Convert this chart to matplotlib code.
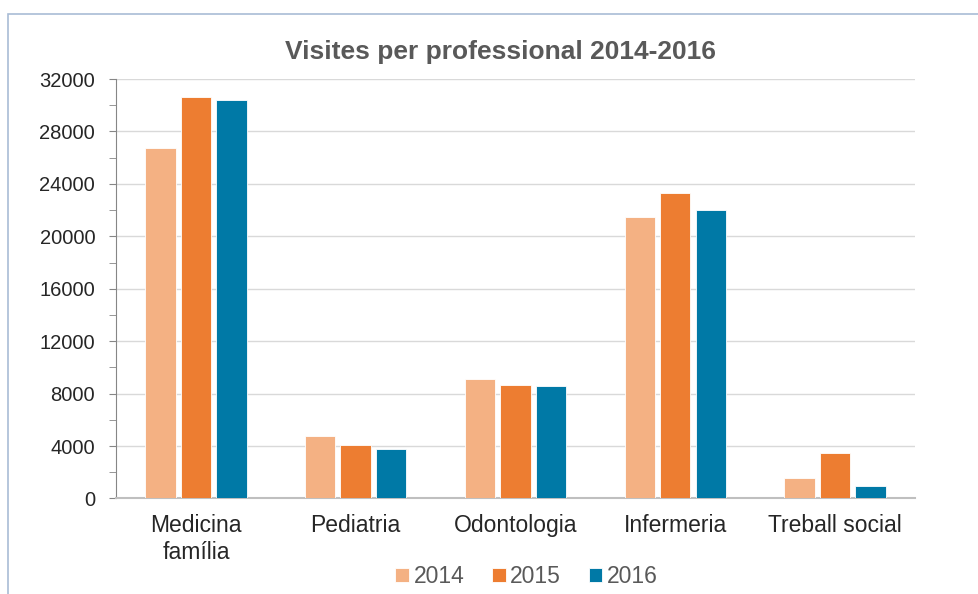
import numpy as np
import matplotlib.pyplot as plt
from matplotlib.patches import Rectangle
from matplotlib.ticker import MultipleLocator

categories = ['Medicina\nfamília', 'Pediatria', 'Odontologia', 'Infermeria', 'Treball social']
years = ['2014', '2015', '2016']
v2014 = [26700, 4750, 9150, 21450, 1550]
v2015 = [30600, 4090, 8690, 23330, 3480]
v2016 = [30420, 3740, 8615, 22020, 970]
colors = ['#F4B183', '#ED7D31', '#0079A6']

plt.rcParams['font.family'] = ['Liberation Sans', 'DejaVu Sans']

fig = plt.figure(figsize=(9.79, 5.94), dpi=100)
ax = fig.add_axes([0.1185, 0.1608, 0.816, 0.7062])

# marc del gràfic
fig.patches.append(Rectangle((8 / 979, -0.1), 1.2, 1 - 14 / 594 + 0.1,
                             transform=fig.transFigure, fill=False,
                             edgecolor='#A9BCD5', linewidth=1.2))

x = np.arange(len(categories))
step = 0.222
width = 0.19
for i, (vals, yr) in enumerate(zip([v2014, v2015, v2016], years)):
    ax.bar(x + (i - 1) * step, vals, width, color=colors[i], label=yr,
           edgecolor='white', linewidth=0.6, zorder=3)

ax.set_xlim(-0.5, len(categories) - 0.5)
ax.set_ylim(0, 32000)
ax.yaxis.set_major_locator(MultipleLocator(4000))
ax.yaxis.set_minor_locator(MultipleLocator(2000))
ax.set_xticks(x)
ax.set_xticklabels(categories, fontsize=16.5, color='#262626', linespacing=1.25)
ax.tick_params(axis='x', length=0, pad=11)
ax.tick_params(axis='y', which='both', length=5, color='#868686', labelsize=14.5,
               labelcolor='#262626', direction='out', pad=10)

ax.grid(axis='y', color='#D9D9D9', linewidth=1, zorder=0)
for s in ['top', 'right']:
    ax.spines[s].set_visible(False)
ax.spines['left'].set_color('#868686')
ax.spines['bottom'].set_color('#BFBFBF')
ax.spines['bottom'].set_linewidth(1.5)

fig.text(0.511, 0.912, 'Visites per professional 2014-2016', ha='center', va='center',
         fontsize=19, fontweight='bold', color='#595959')

fig.legend(*ax.get_legend_handles_labels(), loc='center', bbox_to_anchor=(0.538, 0.029),
           ncol=3, frameon=False, fontsize=16.5, handlelength=0.6, handleheight=0.6,
           handletextpad=0.2, columnspacing=1.2, labelcolor='#595959', borderpad=0)

plt.savefig('out.png', dpi=100)
